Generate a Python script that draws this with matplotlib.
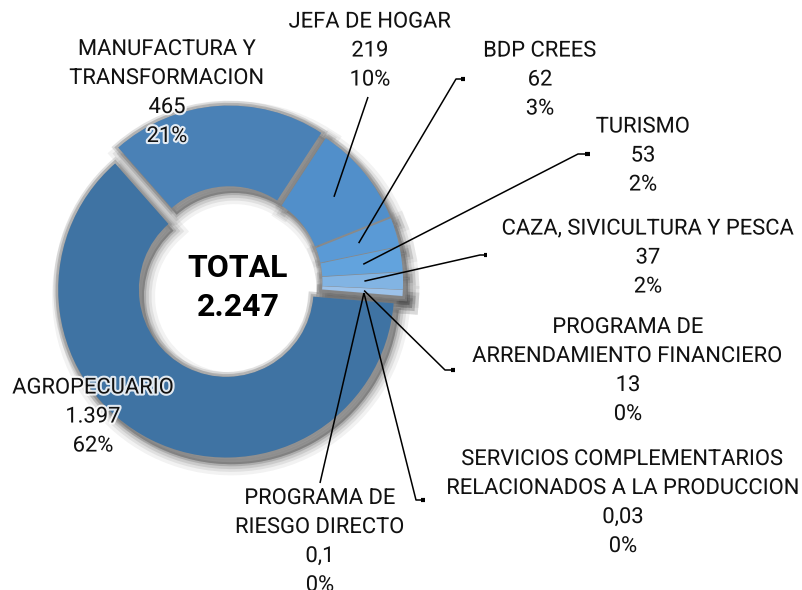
import numpy as np
import matplotlib
matplotlib.use("Agg")
import matplotlib.pyplot as plt
import matplotlib.patheffects as pe

# ---------------- data ----------------
categories = ['AGROPECUARIO', 'MANUFACTURA Y\nTRANSFORMACION', 'JEFA DE HOGAR',
              'BDP CREES', 'TURISMO', 'CAZA, SIVICULTURA Y PESCA',
              'PROGRAMA DE\nARRENDAMIENTO FINANCIERO',
              'SERVICIOS COMPLEMENTARIOS\nRELACIONADOS A LA PRODUCCION',
              'PROGRAMA DE\nRIESGO DIRECTO']
values = [1397, 465, 219, 62, 53, 37, 13, 0.03, 0.1]
value_labels = ['1.397', '465', '219', '62', '53', '37', '13', '0,03', '0,1']
pct_labels = ['62%', '21%', '10%', '3%', '2%', '2%', '0%', '0%', '0%']
total_title = 'TOTAL'
total_label = '2.247'

# ---------------- style ----------------
colors = ['#3f73a3', '#4a81b6', '#518fca', '#5a9ad6', '#62a3dd', '#82b4e3',
          '#9cc2ea', '#a6c9ed', '#a6c9ed']
explode = [0.05, 0.05, 0.03, 0.03, 0.03, 0.03, 0.03, 0.03, 0.03]
FONT = ['Roboto', 'DejaVu Sans']
plt.rcParams['font.family'] = FONT

W, H, DPI = 802, 590, 100
CX, CY, R = 230, 282, 168          # pixel centre / radius of the donut


def px(x, y):
    """pixel (from top-left) -> data coords"""
    return (x - CX) / R, (CY - y) / R


fig = plt.figure(figsize=(W / DPI, H / DPI), dpi=DPI)
ax = fig.add_axes([0, 0, 1, 1])

common = dict(startangle=-4.7, counterclock=False, explode=explode, radius=1.0)

# soft drop shadow (offset towards lower right), several blurred layers
for lw, a in [(16, 0.07), (11, 0.10), (7, 0.14), (3, 0.22)]:
    ax.pie(values, colors=['#4a4a4a'] * len(values),
           center=(0.03, -0.04),
           wedgeprops=dict(width=0.48, edgecolor='#4a4a4a', linewidth=lw, alpha=a),
           **common)
# gray rim around slices
for lw, a in [(7, 0.25), (4, 0.45)]:
    ax.pie(values, colors=['#888888'] * len(values),
           wedgeprops=dict(width=0.48, edgecolor='#888888', linewidth=lw, alpha=a),
           **common)
wedges, _ = ax.pie(values, colors=colors,
                   wedgeprops=dict(width=0.48, edgecolor='none', linewidth=0),
                   **common)

ax.set_xlim(-CX / R, (W - CX) / R)
ax.set_ylim(-(H - CY) / R, CY / R)
ax.set_aspect('equal', adjustable='datalim')
ax.axis('off')

glow = [pe.withStroke(linewidth=3, foreground='white', alpha=0.85)]

# label block centres (pixels) and leader paths (pixels, from label side)
label_pos = [(93, 417), (167, 93), (370, 51), (540, 80), (643, 156),
             (648, 258), (628, 371), (623, 503), (320, 542)]
leader_pts = [None, None,
              [(368, 97)],
              [(465, 79), (456, 79)],
              [(590, 154), (578, 154)],
              [(487, 255), (480, 255)],
              [(455, 370), (445, 370)],
              [(425, 500), (416, 500)],
              [(320, 483)]]

for i, w in enumerate(wedges):
    txt = f"{categories[i]}\n{value_labels[i]}\n{pct_labels[i]}"
    x, y = px(*label_pos[i])
    ax.text(x, y, txt, ha='center', va='center', fontsize=15.8, color='#111111',
            linespacing=1.5, path_effects=glow, zorder=6)
    if leader_pts[i] is not None:
        theta = np.deg2rad((w.theta1 + w.theta2) / 2)
        cx, cy = w.center
        r = 0.77
        ax_pt = (cx + r * np.cos(theta), cy + r * np.sin(theta))
        pts = [px(*p) for p in leader_pts[i]] + [ax_pt]
        xs, ys = zip(*pts)
        ax.plot(xs, ys, color='black', lw=1.1, zorder=7, solid_capstyle='butt')
        if len(leader_pts[i]) > 1:
            x0, y0 = px(*leader_pts[i][0])
            x1, y1 = px(*leader_pts[i][1])
            ax.plot([x0, x0 - (x0 - x1) * 0.4], [y0, y1], color='black', lw=3, zorder=7,
                    solid_capstyle='butt')

tx, ty = px(238, 268)
ax.text(tx, ty, total_title, ha='center', va='center', fontsize=23, fontweight='bold',
        color='black', zorder=8)
tx, ty = px(238, 307)
ax.text(tx, ty, total_label, ha='center', va='center', fontsize=23, fontweight='bold',
        color='black', zorder=8)

fig.savefig('out.png', dpi=DPI)
